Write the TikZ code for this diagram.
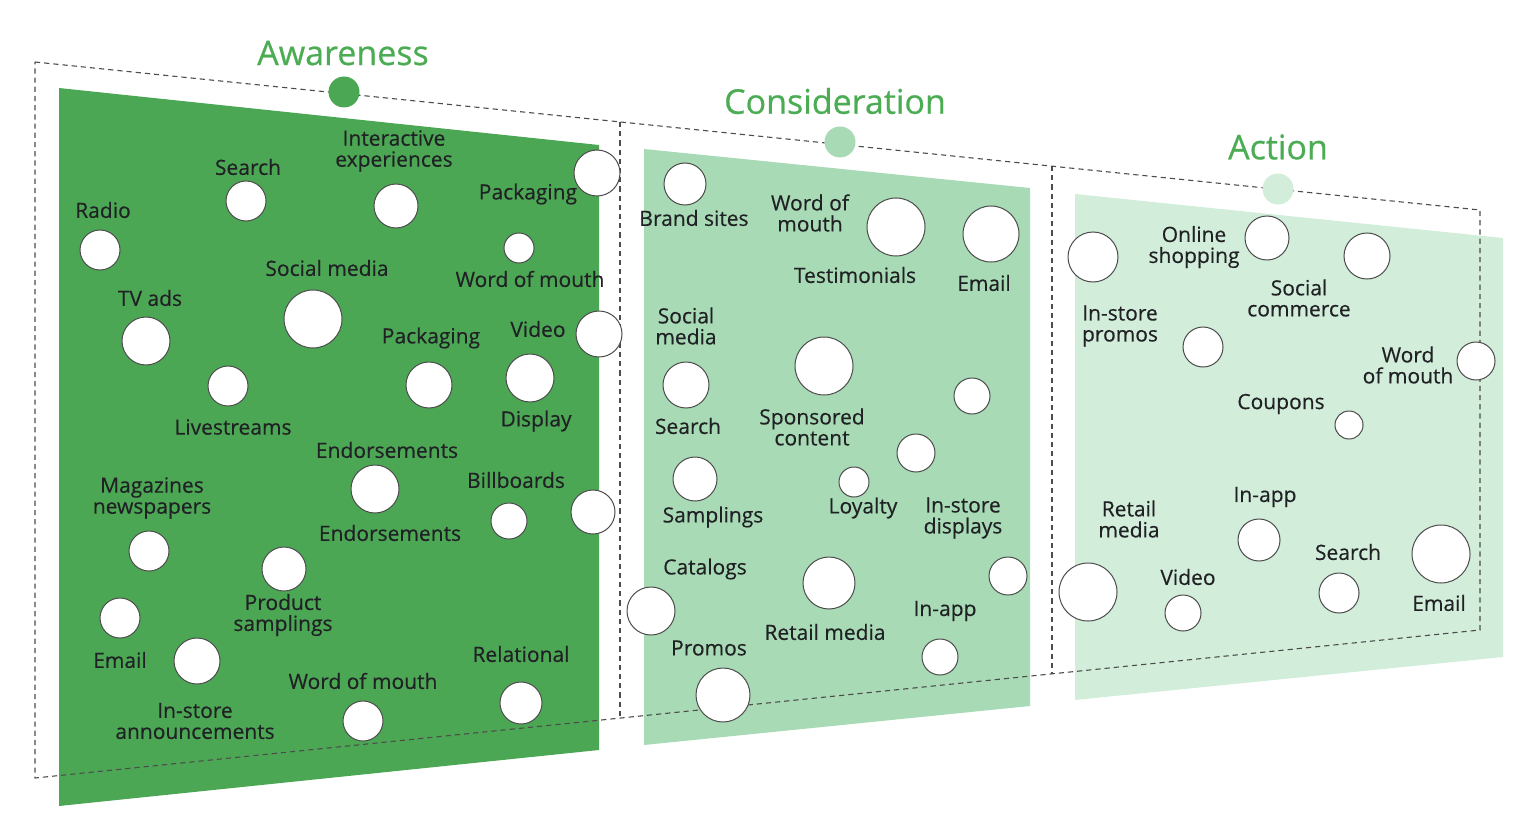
\documentclass[tikz,border=0pt]{standalone}
\usepackage{fontspec}
\usepackage{tikz}
\usepackage{xcolor}
\setmainfont{Open Sans}
\newfontfamily\labelfont{Open Sans}[FakeBold=0.35]
\newfontfamily\stagefont{Open Sans}[FakeBold=0.6]
\usetikzlibrary{positioning}
\definecolor{awaregreen}{RGB}{76, 167, 85}
\definecolor{considgreen}{RGB}{168, 218, 181}
\definecolor{actiongreen}{RGB}{210, 237, 218}
\definecolor{titlegreen}{RGB}{76, 172, 84}
\definecolor{labelgray}{RGB}{32, 33, 36}

\begin{document}
\begin{tikzpicture}[
    x=0.5pt, y=-0.5pt,
    font=\labelfont\fontsize{10.5}{10.5}\selectfont,
    bubble/.style={circle, draw=black!70, fill=white, line width=0.5pt, inner sep=0pt, minimum size=#1pt},
    bubble/.default=20,
    lbl/.style={text=labelgray, align=center, inner sep=0pt},
    stage/.style={text=titlegreen, inner sep=0pt, font=\stagefont\fontsize{17}{17}\selectfont},
    marker/.style={circle, fill=#1, inner sep=0pt, minimum size=15.5pt},
    frame/.style={draw=black!70, line width=0.55pt, dash pattern=on 2.6pt off 2pt}
]
    \useasboundingbox (0,0) rectangle (1518,818);

    % Panels
    \fill[awaregreen] (59,88) -- (599,145) -- (599,750) -- (59,806) -- cycle;
    \fill[considgreen] (644,149) -- (1030,188) -- (1030,706) -- (644,745) -- cycle;
    \fill[actiongreen] (1075,194) -- (1503,238) -- (1503,657) -- (1075,700) -- cycle;

    % Dashed frame
    \coordinate (ftl) at (35,62);
    \coordinate (ftr) at (1480,210);
    \coordinate (fbl) at (35,778);
    \coordinate (fbr) at (1480,630);
    \coordinate (d1t) at (620,122);
    \coordinate (d1b) at (620,718);
    \coordinate (d2t) at (1052,166);
    \coordinate (d2b) at (1052,674);
    \draw[frame] (ftl) -- (ftr) -- (fbr) -- (fbl) -- cycle;
    \draw[frame] (d1t) -- (d1b);
    \draw[frame] (d2t) -- (d2b);

    % Stage titles and markers
    \node[marker=awaregreen] (m-aware) at (344,92) {};
    \node[marker=considgreen] (m-consid) at (840,142) {};
    \node[marker=actiongreen] (m-action) at (1278,189) {};
    \node[stage] (t-aware) at (343,53) {Awareness};
    \node[stage] (t-consid) at (835,101) {Consideration};
    \node[stage] (t-action) at (1278,147) {Action};

    % Awareness bubbles
    \node[bubble=20] (a-search) at (246,201) {};
    \node[bubble=22] (a-interactive) at (396,206) {};
    \node[bubble=23] (a-pack1) at (597,173) {};
    \node[bubble=20] (a-radio) at (100,250) {};
    \node[bubble=15] (a-wom1) at (519,248) {};
    \node[bubble=29] (a-social) at (313,319) {};
    \node[bubble=24] (a-tv) at (146,341) {};
    \node[bubble=23] (a-video) at (599,334) {};
    \node[bubble=20] (a-live) at (228,386) {};
    \node[bubble=23] (a-pack2) at (429,385) {};
    \node[bubble=24] (a-display) at (530,378) {};
    \node[bubble=24] (a-endorse) at (375,489) {};
    \node[bubble=18] (a-bill1) at (509,521) {};
    \node[bubble=22] (a-bill2) at (593,512) {};
    \node[bubble=20] (a-mag) at (149,551) {};
    \node[bubble=22] (a-prod) at (284,569) {};
    \node[bubble=20] (a-email) at (120,618) {};
    \node[bubble=23] (a-instore) at (197,661) {};
    \node[bubble=21] (a-rel) at (521,703) {};
    \node[bubble=20] (a-wom2) at (363,721) {};

    % Awareness labels
    \node[lbl] (la-radio) at (103,210) {Radio};
    \node[lbl] (la-search) at (248,167) {Search};
    \node[lbl] (la-interactive) at (394,151) {Interactive\\experiences};
    \node[lbl] (la-pack1) at (528,194) {Packaging};
    \node[lbl] (la-social) at (327,268) {Social media};
    \node[lbl] (la-wom1) at (530,279) {Word of mouth};
    \node[lbl] (la-tv) at (150,298) {TV ads};
    \node[lbl] (la-pack2) at (431,338) {Packaging};
    \node[lbl] (la-video) at (538,329) {Video};
    \node[lbl] (la-live) at (233,427) {Livestreams};
    \node[lbl] (la-display) at (536,421) {Display};
    \node[lbl] (la-endorse1) at (387,450) {Endorsements};
    \node[lbl] (la-bill) at (516,480) {Billboards};
    \node[lbl] (la-mag) at (152,498) {Magazines\\newspapers};
    \node[lbl] (la-endorse2) at (390,533) {Endorsements};
    \node[lbl] (la-prod) at (283,615) {Product\\samplings};
    \node[lbl] (la-email) at (120,660) {Email};
    \node[lbl] (la-rel) at (521,654) {Relational};
    \node[lbl] (la-wom2) at (363,681) {Word of mouth};
    \node[lbl] (la-instore) at (195,721) {In-store\\announcements};

    % Consideration bubbles
    \node[bubble=21] (c-brand) at (685,184) {};
    \node[bubble=29] (c-testi) at (896,227) {};
    \node[bubble=28] (c-email) at (991,234) {};
    \node[bubble=23] (c-search) at (686,385) {};
    \node[bubble=29] (c-spons) at (824,366) {};
    \node[bubble=18] (c-dot1) at (972,396) {};
    \node[bubble=19] (c-dot2) at (916,453) {};
    \node[bubble=22] (c-samp) at (695,479) {};
    \node[bubble=15] (c-loyal) at (854,482) {};
    \node[bubble=19] (c-instore) at (1008,576) {};
    \node[bubble=24] (c-catal) at (651,611) {};
    \node[bubble=26] (c-retail) at (829,583) {};
    \node[bubble=18] (c-inapp) at (940,657) {};
    \node[bubble=27] (c-promos) at (723,695) {};

    % Consideration labels
    \node[lbl] (lc-brand) at (694,218) {Brand sites};
    \node[lbl] (lc-wom) at (810,213) {Word of\\mouth};
    \node[lbl] (lc-testi) at (855,275) {Testimonials};
    \node[lbl] (lc-email) at (984,283) {Email};
    \node[lbl] (lc-social) at (686,326) {Social\\media};
    \node[lbl] (lc-search) at (688,426) {Search};
    \node[lbl] (lc-spons) at (812,427) {Sponsored\\content};
    \node[lbl] (lc-samp) at (713,517) {Samplings};
    \node[lbl] (lc-loyal) at (863,508) {Loyalty};
    \node[lbl] (lc-instore) at (963,518) {In-store\\displays};
    \node[lbl] (lc-catal) at (705,569) {Catalogs};
    \node[lbl] (lc-inapp) at (945,611) {In-app};
    \node[lbl] (lc-retail) at (825,632) {Retail media};
    \node[lbl] (lc-promos) at (709,648) {Promos};

    % Action bubbles
    \node[bubble=25] (x-instore) at (1093,257) {};
    \node[bubble=22] (x-online) at (1267,238) {};
    \node[bubble=23] (x-social) at (1367,256) {};
    \node[bubble=20] (x-promo) at (1203,347) {};
    \node[bubble=19] (x-wom) at (1476,361) {};
    \node[bubble=14] (x-coupon) at (1349,425) {};
    \node[bubble=21] (x-inapp) at (1259,540) {};
    \node[bubble=29] (x-retail) at (1088,592) {};
    \node[bubble=18] (x-video) at (1183,613) {};
    \node[bubble=20] (x-search) at (1339,593) {};
    \node[bubble=29] (x-email) at (1441,554) {};

    % Action labels
    \node[lbl] (lx-online) at (1194,247) {Online\\shopping};
    \node[lbl] (lx-instore) at (1120,326) {In-store\\promos};
    \node[lbl] (lx-social) at (1299,298) {Social\\commerce};
    \node[lbl] (lx-wom) at (1408,365) {Word\\of mouth};
    \node[lbl] (lx-coupon) at (1281,404) {Coupons};
    \node[lbl] (lx-inapp) at (1265,497) {In-app};
    \node[lbl] (lx-retail) at (1129,519) {Retail\\media};
    \node[lbl] (lx-search) at (1348,552) {Search};
    \node[lbl] (lx-video) at (1188,577) {Video};
    \node[lbl] (lx-email) at (1439,603) {Email};

\end{tikzpicture}
\end{document}
